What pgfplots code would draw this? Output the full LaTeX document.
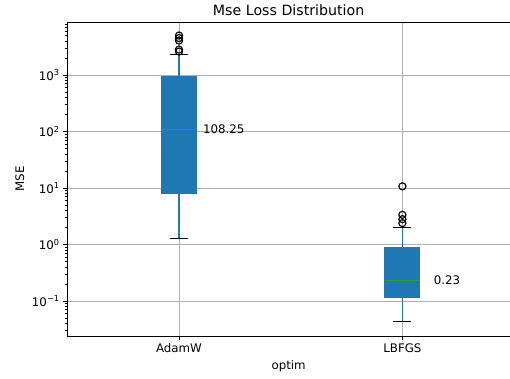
\documentclass[border=0pt]{standalone}
\usepackage{fontspec}
\setmainfont{DejaVu Sans}
\usepackage{pgfplots}
\pgfplotsset{compat=1.18}
\definecolor{tabblue}{HTML}{1F77B4}
\definecolor{tabgreen}{HTML}{2CA02C}
\definecolor{gridgray}{HTML}{B0B0B0}
\newcommand{\tf}{\fontsize{11.8bp}{14bp}\selectfont}
\begin{document}
\begin{tikzpicture}
\useasboundingbox (0,0) rectangle (510bp,379bp);
\begin{axis}[
  at={(67.3bp,43bp)}, anchor=south west,
  scale only axis, width=442.7bp, height=314bp,
  xmin=0.5, xmax=2.4817,
  ymode=log, ymin=0.02403, ymax=8670,
  axis x line*=box, axis y line*=left,
  xtick pos=lower, ytick pos=left,
  axis line style={black, line width=0.94bp},
  xtick={1,2}, xticklabels={AdamW,LBFGS},
  ytick={0.1,1,10,100,1000},
  yticklabels={10\textsuperscript{−1},10\textsuperscript{0},10\textsuperscript{1},10\textsuperscript{2},10\textsuperscript{3}},
  minor ytick={0.03,0.04,0.05,0.06,0.07,0.08,0.09,0.2,0.3,0.4,0.5,0.6,0.7,0.8,0.9,2,3,4,5,6,7,8,9,20,30,40,50,60,70,80,90,200,300,400,500,600,700,800,900,2000,3000,4000,5000,6000,7000,8000},
  tick align=outside,
  major tick length=4.1bp, minor tick length=2.4bp,
  major tick style={black, line width=0.94bp},
  minor tick style={black, line width=0.7bp},
  xmajorgrids, ymajorgrids,
  major grid style={gridgray, line width=0.94bp},
  tick label style={font=\tf},
  xlabel={optim}, ylabel={MSE}, title={Mse Loss Distribution},
  every axis x label/.style={at={(axis description cs:0.5,-0.1061)}, anchor=base, font=\tf},
  every axis y label/.style={at={(axis description cs:-0.0978,0.5)}, rotate=90, anchor=base, font=\tf},
  every axis title/.style={at={(axis description cs:0.5,1.0201)}, anchor=base, font=\fontsize{14.2bp}{17bp}\selectfont},
]
% AdamW
\addplot[fill=tabblue, draw=tabblue, line width=1.18bp] coordinates {(0.9225,7.96) (1.0775,7.96) (1.0775,933) (0.9225,933)} -- cycle;
\addplot[tabblue, line width=1.18bp] coordinates {(1,7.96) (1,1.26)};
\addplot[tabblue, line width=1.18bp] coordinates {(1,933) (1,2290)};
\addplot[black, line width=1.18bp] coordinates {(0.96,1.26) (1.04,1.26)};
\addplot[black, line width=1.18bp] coordinates {(0.96,2290) (1.04,2290)};
\addplot[tabgreen, line width=1.18bp] coordinates {(0.9225,108.25) (1.0775,108.25)};
\addplot[only marks, mark=o, mark size=3.55bp, black, line width=1.18bp] coordinates {(1,4990) (1,4500) (1,4070) (1,2820) (1,2600)};
% LBFGS
\addplot[fill=tabblue, draw=tabblue, line width=1.18bp] coordinates {(1.9225,0.114) (2.0775,0.114) (2.0775,0.90) (1.9225,0.90)} -- cycle;
\addplot[tabblue, line width=1.18bp] coordinates {(2,0.114) (2,0.043)};
\addplot[tabblue, line width=1.18bp] coordinates {(2,0.90) (2,1.975)};
\addplot[black, line width=1.18bp] coordinates {(1.96,0.043) (2.04,0.043)};
\addplot[black, line width=1.18bp] coordinates {(1.96,1.975) (2.04,1.975)};
\addplot[tabgreen, line width=1.18bp] coordinates {(1.9225,0.23) (2.0775,0.23)};
\addplot[only marks, mark=o, mark size=3.55bp, black, line width=1.18bp] coordinates {(2,10.7) (2,3.35) (2,2.81) (2,2.39)};
\node[font=\tf, inner sep=0pt] at (axis cs:1.2,108.25) {108.25};
\node[font=\tf, inner sep=0pt] at (axis cs:2.2,0.23) {0.23};
\end{axis}
\end{tikzpicture}
\end{document}
